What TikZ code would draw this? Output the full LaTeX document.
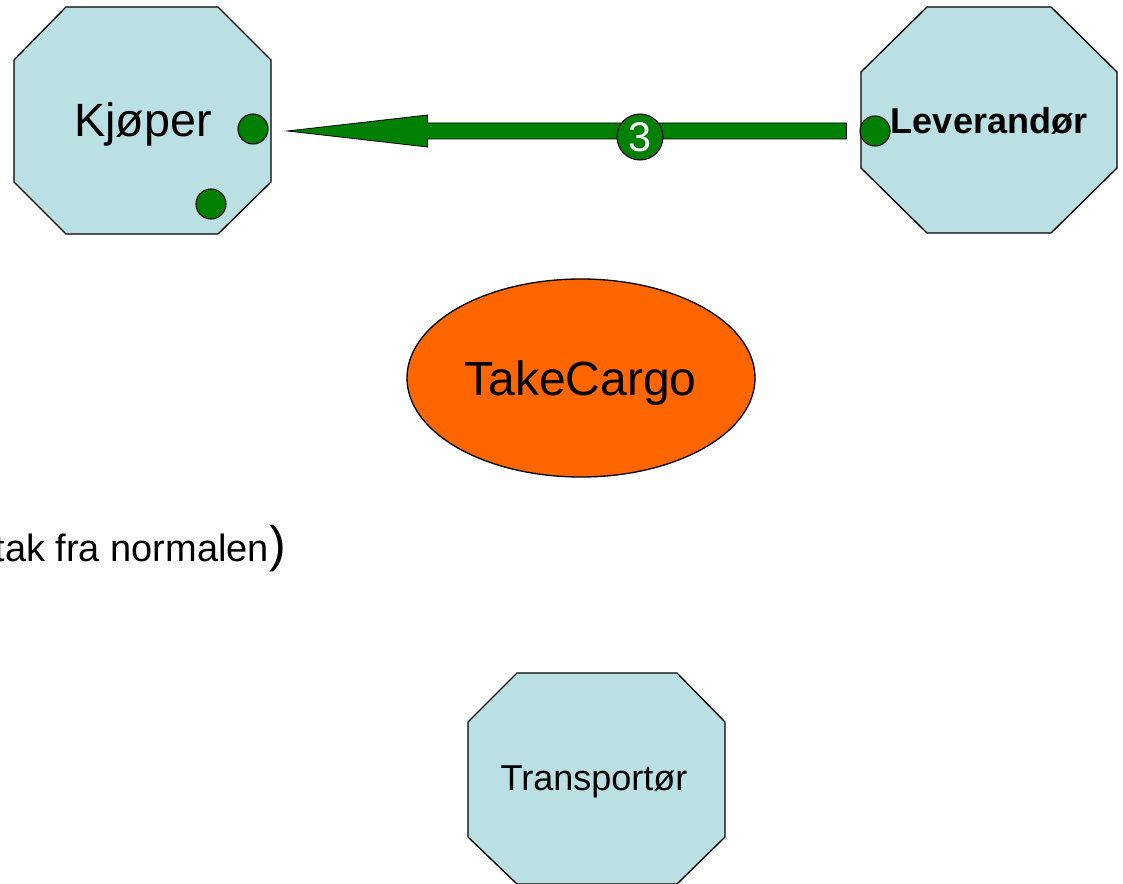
\documentclass[tikz,border=0pt]{standalone}
\usepackage{fontspec}
\setmainfont{Liberation Sans}
\usetikzlibrary{calc,shapes.geometric}
\definecolor{octfill}{HTML}{BBE0E3}
\definecolor{dgreen}{HTML}{008000}
\definecolor{orng}{HTML}{FF6600}
\begin{document}
\begin{tikzpicture}[x=0.75pt,y=-0.75pt,
  octa/.style={draw=black, fill=octfill, line width=1pt, line join=miter},
  port/.style={circle, draw=black, fill=dgreen, line width=0.8pt, minimum size=22.5pt, inner sep=0pt},
  lbl/.style={inner sep=0pt, anchor=base},
  flow/.style={draw=black, fill=dgreen, line width=0.6pt, line join=miter},
  numdot/.style={circle, draw=black, fill=dgreen, line width=0.8pt, minimum size=34.5pt, inner sep=0pt, text=white, font=\fontsize{31pt}{34pt}\selectfont},
]
\useasboundingbox (0,0) rectangle (1123,884);
\clip (0,0) rectangle (1123,884);

% Kjoper
\path[octa] (66,7) -- (218,7) -- (271,60) -- (271,182) -- (218,234) -- (66,234) -- (14,182) -- (14,60) -- cycle;
\node[lbl, font=\fontsize{35pt}{40pt}\selectfont] (kjoper) at (143,137) {Kjøper};
\node[port] (kp1) at (253,129) {};
\node[port] (kp2) at (211,204) {};

% Leverandor
\path[octa] (927,7) -- (1051,7) -- (1117,72) -- (1117,168) -- (1051,233) -- (927,233) -- (861,168) -- (861,72) -- cycle;
\node[lbl, font=\bfseries\fontsize{27pt}{32pt}\selectfont] (lev) at (989,134) {Leverandør};
\node[port] (ld) at (875,131) {};

% Transportor
\path[octa] (517,673) -- (677,673) -- (725,722) -- (725,837) -- (677,884) -- (517,884) -- (468,837) -- (468,722) -- cycle;
\node[lbl, font=\fontsize{27pt}{32pt}\selectfont] (trans) at (594,790) {Transportør};

% TakeCargo
\node[ellipse, draw=black, fill=orng, line width=1pt, minimum width=261pt, minimum height=148.5pt, inner sep=0pt] (tc) at (581,378) {};
\node[lbl, font=\fontsize{36pt}{40pt}\selectfont] (tctext) at (580.5,395) {TakeCargo};

% Arrow from Leverandor to Kjoper
\coordinate (atip) at ($(kp1.east)+(19,2)$);
\coordinate (aend) at ($(ld.west)+(-13,0)$);
\path[flow] (atip) -- ($(atip)+(140,-16)$) -- ($(atip)+(140,-8)$) -- ($(aend)+(0,-8)$) -- ($(aend)+(0,8)$) -- ($(atip)+(140,8)$) -- ($(atip)+(140,16)$) -- cycle;
\node[numdot] (n3) at (640,137) {3};

% Side text
\node[inner sep=0pt, anchor=base east, font=\fontsize{28.5pt}{32pt}\selectfont] (note) at (286,561) {(unntak fra normalen{\fontsize{37.5pt}{40pt}\selectfont)}};
\end{tikzpicture}
\end{document}
